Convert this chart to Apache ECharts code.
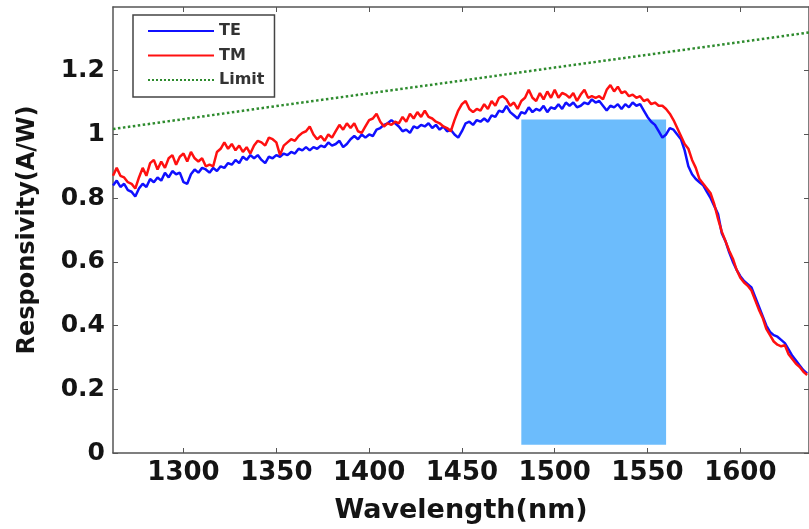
<!DOCTYPE html>
<html>
<head>
<meta charset="utf-8">
<script src="https://cdn.jsdelivr.net/npm/echarts@6/dist/echarts.min.js"></script>
<style>html,body{margin:0;padding:0;background:#fff}#c{width:809px;height:529px}</style>
</head>
<body>
<div id="c"></div>
<script>
const xTicks = [1300, 1350, 1400, 1450, 1500, 1550, 1600];
const yTicks = [0, 0.2, 0.4, 0.6, 0.8, 1, 1.2];
const seriesNames = ['TE', 'TM', 'Limit'];

const teWl = [1262,1264,1266,1268,1270,1272,1274,1276,1278,1280,1282,1284,1286,1288,1290,1292,1294,1296,1298,1300,1302,1304,1306,1308,1310,1312,1314,1316,1318,1320,1322,1324,1326,1328,1330,1332,1334,1336,1338,1340,1342,1344,1346,1348,1350,1352,1354,1356,1358,1360,1362,1364,1366,1368,1370,1372,1374,1376,1378,1380,1382,1384,1386,1388,1390,1392,1394,1396,1398,1400,1402,1404,1406,1408,1410,1412,1414,1416,1418,1420,1422,1424,1426,1428,1430,1432,1434,1436,1438,1440,1442,1444,1446,1448,1450,1452,1454,1456,1458,1460,1462,1464,1466,1468,1470,1472,1474,1476,1478,1480,1482,1484,1486,1488,1490,1492,1494,1496,1498,1500,1502,1504,1506,1508,1510,1512,1514,1516,1518,1520,1522,1524,1526,1528,1530,1532,1534,1536,1538,1540,1542,1544,1546,1548,1550,1552,1554,1556,1558,1560,1562,1564,1566,1568,1570,1572,1574,1576,1578,1580,1582,1584,1586,1588,1590,1592,1594,1596,1598,1600,1602,1604,1606,1608,1610,1612,1614,1616,1618,1620,1622,1624,1626,1628,1630,1632,1634,1636];
const teVal = [0.84,0.855,0.835,0.845,0.825,0.82,0.805,0.83,0.845,0.835,0.86,0.85,0.865,0.855,0.88,0.865,0.885,0.875,0.88,0.85,0.845,0.875,0.89,0.88,0.895,0.89,0.88,0.895,0.885,0.9,0.895,0.91,0.905,0.92,0.91,0.93,0.92,0.935,0.925,0.935,0.92,0.91,0.93,0.925,0.935,0.93,0.94,0.935,0.945,0.94,0.955,0.95,0.96,0.95,0.96,0.955,0.965,0.96,0.975,0.965,0.97,0.98,0.96,0.97,0.985,0.995,0.985,1.0,0.99,1.0,0.995,1.015,1.02,1.03,1.035,1.045,1.035,1.025,1.01,1.015,1.005,1.025,1.02,1.03,1.025,1.035,1.02,1.03,1.015,1.025,1.01,1.015,1.0,0.99,1.01,1.035,1.04,1.03,1.045,1.04,1.05,1.04,1.06,1.055,1.075,1.07,1.09,1.07,1.06,1.05,1.07,1.065,1.085,1.07,1.08,1.075,1.09,1.07,1.085,1.08,1.095,1.08,1.1,1.09,1.1,1.085,1.09,1.1,1.095,1.11,1.1,1.105,1.09,1.075,1.09,1.085,1.095,1.08,1.095,1.085,1.1,1.09,1.095,1.075,1.055,1.04,1.03,1.01,0.99,1.0,1.02,1.015,1.0,0.985,0.95,0.9,0.875,0.86,0.85,0.84,0.82,0.8,0.775,0.75,0.69,0.665,0.63,0.6,0.575,0.555,0.54,0.53,0.52,0.49,0.46,0.43,0.4,0.38,0.37,0.365,0.355,0.345,0.325,0.305,0.29,0.275,0.26,0.25];

const tmWl = teWl;
const tmVal = [0.87,0.895,0.87,0.865,0.85,0.845,0.83,0.865,0.895,0.87,0.91,0.92,0.89,0.915,0.895,0.925,0.935,0.905,0.93,0.94,0.915,0.945,0.925,0.915,0.925,0.9,0.905,0.9,0.945,0.955,0.975,0.955,0.97,0.95,0.965,0.945,0.96,0.94,0.965,0.98,0.975,0.965,0.99,0.985,0.975,0.935,0.965,0.975,0.985,0.98,0.995,1.005,1.01,1.025,1.0,0.985,0.995,0.98,1.0,0.99,1.01,1.03,1.015,1.035,1.02,1.035,1.01,1.005,1.025,1.045,1.05,1.065,1.04,1.025,1.035,1.03,1.04,1.035,1.055,1.04,1.065,1.05,1.07,1.055,1.075,1.055,1.05,1.04,1.035,1.025,1.02,1.01,1.045,1.075,1.095,1.105,1.08,1.07,1.08,1.075,1.095,1.08,1.105,1.09,1.115,1.12,1.11,1.09,1.1,1.08,1.105,1.115,1.14,1.115,1.105,1.13,1.11,1.135,1.115,1.14,1.115,1.13,1.125,1.115,1.13,1.105,1.125,1.14,1.115,1.12,1.115,1.12,1.11,1.14,1.155,1.135,1.15,1.13,1.135,1.12,1.125,1.115,1.12,1.105,1.11,1.095,1.1,1.09,1.09,1.08,1.065,1.045,1.02,0.995,0.97,0.955,0.92,0.895,0.86,0.845,0.83,0.815,0.78,0.735,0.695,0.665,0.635,0.61,0.575,0.55,0.535,0.525,0.51,0.48,0.45,0.425,0.39,0.37,0.35,0.34,0.335,0.338,0.31,0.295,0.28,0.27,0.255,0.245];

const limitWl = [1262, 1300, 1350, 1400, 1450, 1500, 1550, 1600, 1637];
const limitVal = [1.017, 1.048, 1.089, 1.129, 1.169, 1.21, 1.25, 1.29, 1.32];

// covering box: [x0, x1, y0, y1] in data units
const maskBox = [1482, 1560, 0.026, 1.047];

const zip = (a, b) => a.map((v, i) => [v, b[i]]);
const FONT = 'DejaVu Sans';
const TXT = '#141414';
const AX = '#555';
const fmt = v => String(v);

const chart = echarts.init(document.getElementById('c'), null, {renderer: 'canvas'});
chart.setOption({
  animation: false,
  backgroundColor: '#fff',
  grid: {left: 113, right: -3, top: 7, bottom: 74, containLabel: false},
  legend: {
    data: seriesNames,
    orient: 'vertical',
    left: 133, top: 15,
    itemWidth: 66, itemHeight: 16, itemGap: 8.5,
    padding: [8, 10, 9, 14],
    borderColor: '#444', borderWidth: 1.5,
    backgroundColor: '#fff',
    itemStyle: {opacity: 0},
    textStyle: {fontFamily: FONT, fontWeight: 'bold', fontSize: 16, color: '#333'},
    z: 20
  },
  xAxis: [{
    type: 'value', min: 1262, max: 1637,
    name: 'Wavelength(nm)', nameLocation: 'middle', nameGap: 44,
    nameTextStyle: {fontFamily: FONT, fontWeight: 'bold', fontSize: 27, color: TXT},
    axisLine: {show: true, lineStyle: {color: AX, width: 1.5}},
    axisTick: {show: true, inside: true, length: 5, customValues: xTicks, lineStyle: {color: AX}},
    axisLabel: {customValues: xTicks, formatter: fmt, margin: 7, fontFamily: FONT, fontWeight: 'bold', fontSize: 26, color: TXT},
    splitLine: {show: false}
  }, {
    type: 'value', position: 'top', min: 1262, max: 1637,
    axisLine: {show: true, onZero: false, lineStyle: {color: AX, width: 1.5}},
    axisTick: {show: true, inside: true, length: 5, customValues: xTicks, lineStyle: {color: AX}},
    axisLabel: {show: false}, splitLine: {show: false}
  }],
  yAxis: [{
    type: 'value', min: 0, max: 1.4,
    name: 'Responsivity(A/W)', nameLocation: 'middle', nameGap: 73, nameRotate: 90,
    nameTextStyle: {fontFamily: FONT, fontWeight: 'bold', fontSize: 24, color: TXT},
    axisLine: {show: true, lineStyle: {color: AX, width: 1.5}},
    axisTick: {show: true, inside: true, length: 5, customValues: yTicks, lineStyle: {color: AX}},
    axisLabel: {customValues: yTicks, formatter: fmt, margin: 8, fontFamily: FONT, fontWeight: 'bold', fontSize: 25, color: TXT},
    splitLine: {show: false}
  }, {
    type: 'value', position: 'right', min: 0, max: 1.4,
    axisLine: {show: true, onZero: false, lineStyle: {color: AX, width: 1.5}},
    axisTick: {show: true, inside: true, length: 5, customValues: yTicks, lineStyle: {color: AX}},
    axisLabel: {show: false}, splitLine: {show: false}
  }],
  series: [
    {name: 'TE', type: 'line', data: zip(teWl, teVal), showSymbol: false, symbol: 'none',
     lineStyle: {color: '#1010ff', width: 2.5}, itemStyle: {color: '#1010ff'}, z: 2},
    {name: 'TM', type: 'line', data: zip(tmWl, tmVal), showSymbol: false, symbol: 'none',
     lineStyle: {color: '#ff1010', width: 2.5}, itemStyle: {color: '#ff1010'}, z: 3},
    {name: 'Limit', type: 'line', data: zip(limitWl, limitVal), showSymbol: false, symbol: 'none',
     lineStyle: {color: '#2e8b2e', width: 2.5, type: 'dotted'}, itemStyle: {color: '#2e8b2e'}, z: 2},
    {name: 'box', type: 'line', data: [], z: 10,
     markArea: {silent: true, itemStyle: {color: '#6cbcfc', opacity: 1},
       data: [[{xAxis: maskBox[0], yAxis: maskBox[2]}, {xAxis: maskBox[1], yAxis: maskBox[3]}]]}}
  ]
});
</script>
</body>
</html>
